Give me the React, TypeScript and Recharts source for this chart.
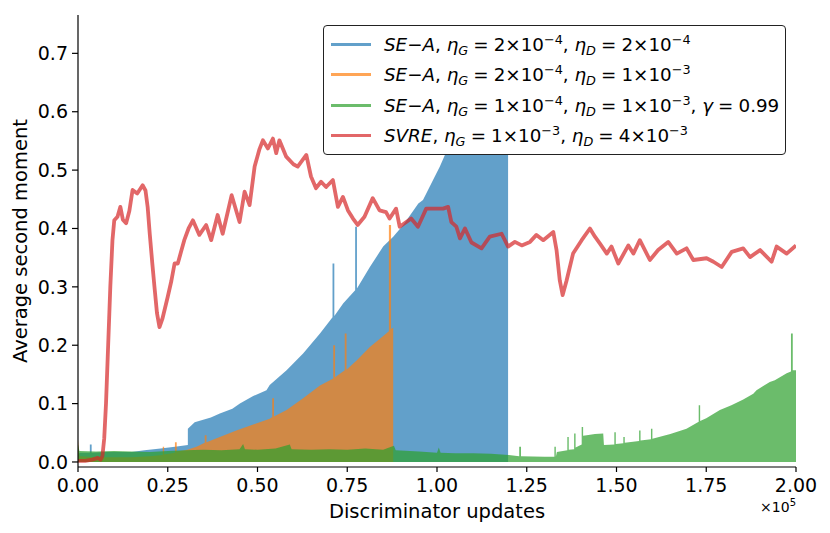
import React from "react";
import { ComposedChart, Area, Line, XAxis, YAxis } from "recharts";

// x values are in units of 1e5 discriminator updates
const xTicks = [0, 0.25, 0.5, 0.75, 1.0, 1.25, 1.5, 1.75, 2.0];
const yTicks = [0, 0.1, 0.2, 0.3, 0.4, 0.5, 0.6, 0.7];

// SE-A, eta_G = 2e-4, eta_D = 2e-4 (upper envelope of the noisy curve)
const seaBlue: [number, number][] = [
  [0, 0.012], [0.005, 0.016], [0.033, 0.016], [0.033, 0.03], [0.038, 0.03], [0.038, 0.016],
  [0.08, 0.017], [0.15, 0.017], [0.185, 0.02], [0.23, 0.023], [0.27, 0.026], [0.306, 0.029],
  [0.306, 0.057], [0.325, 0.068], [0.37, 0.076], [0.395, 0.083], [0.43, 0.091], [0.451, 0.1],
  [0.488, 0.113], [0.525, 0.123], [0.534, 0.132], [0.581, 0.157], [0.627, 0.186], [0.674, 0.22],
  [0.709, 0.248], [0.709, 0.34], [0.714, 0.34], [0.714, 0.25], [0.739, 0.272], [0.772, 0.294],
  [0.772, 0.403], [0.777, 0.403], [0.777, 0.297], [0.813, 0.334], [0.85, 0.369], [0.878, 0.386],
  [0.906, 0.406], [0.948, 0.443], [0.961, 0.449], [0.989, 0.483], [1.008, 0.506], [1.022, 0.526],
  [1.05, 0.56], [1.1, 0.61], [1.15, 0.65], [1.198, 0.68],
];

// SE-A, eta_G = 2e-4, eta_D = 1e-3
const seaOrange: [number, number][] = [
  [0, 0.038], [0.004, 0.01], [0.05, 0.008], [0.15, 0.008], [0.2, 0.01], [0.236, 0.012],
  [0.236, 0.026], [0.24, 0.026], [0.24, 0.013], [0.27, 0.016], [0.27, 0.034], [0.275, 0.034],
  [0.275, 0.018], [0.3, 0.02], [0.33, 0.026], [0.353, 0.033], [0.353, 0.046], [0.358, 0.046],
  [0.358, 0.034], [0.441, 0.054], [0.534, 0.074], [0.541, 0.077], [0.541, 0.109], [0.546, 0.109],
  [0.546, 0.078], [0.581, 0.089], [0.627, 0.109], [0.674, 0.131], [0.711, 0.143], [0.711, 0.2],
  [0.716, 0.2], [0.716, 0.145], [0.743, 0.157], [0.743, 0.22], [0.748, 0.22], [0.748, 0.158],
  [0.776, 0.174], [0.813, 0.197], [0.841, 0.211], [0.866, 0.224], [0.866, 0.406], [0.872, 0.406],
  [0.872, 0.228], [0.878, 0.23],
];

// SE-A, eta_G = 1e-4, eta_D = 1e-3, gamma = 0.99
const seaGreen: [number, number][] = [
  [0, 0.03], [0.004, 0.019], [0.05, 0.018], [0.1, 0.019], [0.15, 0.018], [0.2, 0.017],
  [0.25, 0.019], [0.3, 0.02], [0.35, 0.021], [0.4, 0.02], [0.45, 0.022], [0.46, 0.031],
  [0.465, 0.022], [0.5, 0.021], [0.55, 0.023], [0.59, 0.03], [0.595, 0.022], [0.65, 0.021],
  [0.7, 0.022], [0.75, 0.021], [0.8, 0.023], [0.85, 0.021], [0.88, 0.028], [0.885, 0.02],
  [0.95, 0.018], [1.0, 0.016], [1.005, 0.025], [1.01, 0.016], [1.05, 0.015], [1.1, 0.015],
  [1.15, 0.014], [1.2, 0.012], [1.229, 0.01], [1.229, 0.026], [1.234, 0.026], [1.234, 0.01],
  [1.3, 0.009], [1.327, 0.009], [1.327, 0.026], [1.331, 0.026], [1.331, 0.009], [1.334, 0.017],
  [1.363, 0.02], [1.363, 0.043], [1.367, 0.043], [1.367, 0.021], [1.382, 0.022], [1.382, 0.049],
  [1.386, 0.049], [1.386, 0.025], [1.403, 0.03], [1.403, 0.06], [1.407, 0.06], [1.407, 0.045],
  [1.417, 0.046], [1.44, 0.048], [1.463, 0.049], [1.465, 0.029], [1.494, 0.03], [1.494, 0.051],
  [1.498, 0.051], [1.498, 0.031], [1.519, 0.032], [1.519, 0.043], [1.523, 0.043], [1.523, 0.033],
  [1.563, 0.036], [1.563, 0.054], [1.567, 0.054], [1.567, 0.037], [1.596, 0.039], [1.596, 0.057],
  [1.6, 0.057], [1.6, 0.04], [1.65, 0.048], [1.695, 0.057], [1.729, 0.069], [1.729, 0.097],
  [1.733, 0.097], [1.733, 0.07], [1.75, 0.075], [1.788, 0.089], [1.82, 0.097], [1.853, 0.107],
  [1.881, 0.117], [1.89, 0.123], [1.927, 0.137], [1.941, 0.14], [1.974, 0.152], [1.986, 0.155],
  [1.986, 0.22], [1.991, 0.22], [1.991, 0.157], [2.0, 0.157],
];

// SVRE, eta_G = 1e-3, eta_D = 4e-3
const svreRed: [number, number][] = [
  [0, 0.002], [0.02, 0.002], [0.04, 0.004], [0.055, 0.007], [0.063, 0.004], [0.068, 0.01],
  [0.073, 0.04], [0.078, 0.1], [0.084, 0.2], [0.09, 0.3], [0.096, 0.38], [0.101, 0.414],
  [0.11, 0.42], [0.118, 0.437], [0.125, 0.415], [0.134, 0.409], [0.143, 0.43], [0.152, 0.466],
  [0.165, 0.46], [0.18, 0.474], [0.188, 0.465], [0.194, 0.437], [0.2, 0.39], [0.207, 0.34],
  [0.213, 0.3], [0.22, 0.255], [0.227, 0.231], [0.235, 0.245], [0.25, 0.283], [0.26, 0.31],
  [0.269, 0.34], [0.278, 0.34], [0.287, 0.36], [0.296, 0.38], [0.308, 0.4], [0.32, 0.414],
  [0.338, 0.389], [0.357, 0.406], [0.371, 0.38], [0.389, 0.423], [0.403, 0.391], [0.428, 0.457],
  [0.45, 0.411], [0.464, 0.463], [0.478, 0.44], [0.492, 0.506], [0.505, 0.535], [0.515, 0.551],
  [0.529, 0.537], [0.543, 0.554], [0.552, 0.529], [0.561, 0.551], [0.58, 0.523], [0.6, 0.51],
  [0.612, 0.506], [0.636, 0.526], [0.649, 0.489], [0.663, 0.469], [0.677, 0.48], [0.691, 0.471],
  [0.71, 0.483], [0.724, 0.437], [0.738, 0.454], [0.752, 0.431], [0.766, 0.417], [0.779, 0.406],
  [0.798, 0.42], [0.821, 0.452], [0.84, 0.431], [0.858, 0.428], [0.868, 0.417], [0.886, 0.434],
  [0.896, 0.403], [0.928, 0.417], [0.947, 0.403], [0.97, 0.434], [0.998, 0.434], [1.017, 0.434],
  [1.031, 0.437], [1.04, 0.411], [1.054, 0.403], [1.064, 0.383], [1.078, 0.4], [1.096, 0.376],
  [1.124, 0.366], [1.147, 0.386], [1.18, 0.391], [1.198, 0.369], [1.217, 0.377], [1.236, 0.371],
  [1.259, 0.377], [1.277, 0.389], [1.296, 0.38], [1.324, 0.394], [1.333, 0.363], [1.342, 0.311],
  [1.35, 0.286], [1.361, 0.311], [1.379, 0.357], [1.403, 0.38], [1.426, 0.4], [1.44, 0.386],
  [1.454, 0.374], [1.473, 0.357], [1.486, 0.369], [1.505, 0.34], [1.533, 0.371], [1.547, 0.357],
  [1.565, 0.38], [1.593, 0.346], [1.616, 0.363], [1.644, 0.377], [1.668, 0.357], [1.695, 0.366],
  [1.714, 0.346], [1.751, 0.349], [1.77, 0.343], [1.793, 0.334], [1.821, 0.36], [1.853, 0.366],
  [1.872, 0.351], [1.9, 0.363], [1.932, 0.343], [1.946, 0.369], [1.974, 0.357], [2.0, 0.371],
];

const legendMethods = ["SE−A", "SE−A", "SE−A", "SVRE"];
const legendEtaG = [["2", "−4"], ["2", "−4"], ["1", "−4"], ["1", "−3"]];
const legendEtaD = [["2", "−4"], ["1", "−3"], ["1", "−3"], ["4", "−3"]];
const legendGamma = [null, null, "0.99", null];
const colors = ["#1f77b4", "#ff7f0e", "#2ca02c", "#d62728"];

const FONT = "'DejaVu Sans', sans-serif";

const toRows = (pts: [number, number][]) => pts.map(([x, y]) => ({ x, y }));

function Sci({ m, e }: { m: string; e: string }) {
  return (
    <span>
      {m}×10
      <span style={{ fontSize: "0.7em", position: "relative", top: "-0.55em" }}>{e}</span>
    </span>
  );
}

function Eta({ sub }: { sub: string }) {
  return (
    <span>
      <i>η</i>
      <span style={{ fontSize: "0.7em", position: "relative", top: "0.3em", fontStyle: "italic" }}>
        {sub}
      </span>
    </span>
  );
}

const eq = <span style={{ margin: "0 0.28em" }}>=</span>;

function MethodName({ name }: { name: string }) {
  const parts = name.split("−");
  return (
    <span>
      <i>{parts[0]}</i>
      {parts.length > 1 && (
        <>
          −<i>{parts[1]}</i>
        </>
      )}
    </span>
  );
}

function LegendBox() {
  return (
    <div
      style={{
        position: "absolute",
        left: 323,
        top: 25,
        width: 463,
        height: 130,
        boxSizing: "border-box",
        border: "1px solid #222",
        borderRadius: 4,
        background: "#fff",
        fontFamily: FONT,
        fontSize: 18.3,
        color: "#000",
      }}
    >
      {legendMethods.map((m, i) => (
        <div
          key={i}
          style={{
            position: "absolute",
            left: 0,
            top: 18.3 + 30.5 * i - 15,
            height: 30,
            display: "flex",
            alignItems: "center",
            whiteSpace: "nowrap",
          }}
        >
          <div
            style={{
              marginLeft: 7,
              width: 40,
              height: 3,
              background: colors[i],
              opacity: 0.7,
            }}
          />
          <div style={{ marginLeft: 13 }}>
            <MethodName name={m} />,{" "}
            <Eta sub="G" />
            {eq}
            <Sci m={legendEtaG[i][0]} e={legendEtaG[i][1]} />,{" "}
            <Eta sub="D" />
            {eq}
            <Sci m={legendEtaD[i][0]} e={legendEtaD[i][1]} />
            {legendGamma[i] && (
              <>
                , <i>γ</i>
                {eq}
                {legendGamma[i]}
              </>
            )}
          </div>
        </div>
      ))}
    </div>
  );
}

function XTitle(props: any) {
  const vb = props.viewBox || { x: 78, width: 718 };
  return (
    <g fontFamily={FONT} fill="#000">
      <text x={vb.x + vb.width / 2} y={518} textAnchor="middle" fontSize={19.5}>
        Discriminator updates
      </text>
      <text x={vb.x + vb.width} y={512} textAnchor="end" fontSize={14}>
        ×10
        <tspan fontSize={10} dy={-6}>
          5
        </tspan>
      </text>
    </g>
  );
}

function YTitle(props: any) {
  const vb = props.viewBox || { y: 15, height: 452 };
  const cy = vb.y + vb.height / 2;
  return (
    <text
      x={27}
      y={cy}
      transform={`rotate(-90, 27, ${cy})`}
      textAnchor="middle"
      fontFamily={FONT}
      fontSize={19.5}
      fill="#000"
    >
      Average second moment
    </text>
  );
}

export default function App() {
  const tickStyle = { fill: "#000", fontSize: 19, fontFamily: FONT };
  return (
    <div style={{ position: "absolute", left: 0, top: 0, width: 830, height: 533, background: "#fff" }}>
      <ComposedChart width={830} height={533} margin={{ top: 15, right: 34, bottom: 36, left: 18 }}>
        <XAxis
          type="number"
          dataKey="x"
          domain={[0, 2]}
          ticks={xTicks}
          allowDataOverflow
          tickFormatter={(v: number) => v.toFixed(2)}
          tick={tickStyle}
          tickSize={5}
          tickMargin={7}
          height={30}
          axisLine={{ stroke: "#000", strokeWidth: 1.2 }}
          tickLine={{ stroke: "#000", strokeWidth: 1.2 }}
          label={<XTitle />}
        />
        <YAxis
          type="number"
          domain={[-0.0086, 0.7657]}
          ticks={yTicks}
          allowDataOverflow
          tickFormatter={(v: number) => v.toFixed(1)}
          tick={tickStyle}
          tickSize={6}
          tickMargin={4}
          width={60}
          axisLine={{ stroke: "#000", strokeWidth: 1.2 }}
          tickLine={{ stroke: "#000", strokeWidth: 1.2 }}
          label={<YTitle />}
        />
        <Area
          data={toRows(seaBlue)}
          dataKey="y"
          type="linear"
          baseValue={0}
          stroke="none"
          fill={colors[0]}
          fillOpacity={0.7}
          isAnimationActive={false}
        />
        <Area
          data={toRows(seaOrange)}
          dataKey="y"
          type="linear"
          baseValue={0}
          stroke="none"
          fill={colors[1]}
          fillOpacity={0.7}
          isAnimationActive={false}
        />
        <Area
          data={toRows(seaGreen)}
          dataKey="y"
          type="linear"
          baseValue={0}
          stroke="none"
          fill={colors[2]}
          fillOpacity={0.7}
          isAnimationActive={false}
        />
        <Line
          data={toRows(svreRed)}
          dataKey="y"
          type="linear"
          stroke={colors[3]}
          strokeOpacity={0.7}
          strokeWidth={3.8}
          strokeLinejoin="round"
          dot={false}
          activeDot={false}
          isAnimationActive={false}
        />
      </ComposedChart>
      <LegendBox />
    </div>
  );
}
